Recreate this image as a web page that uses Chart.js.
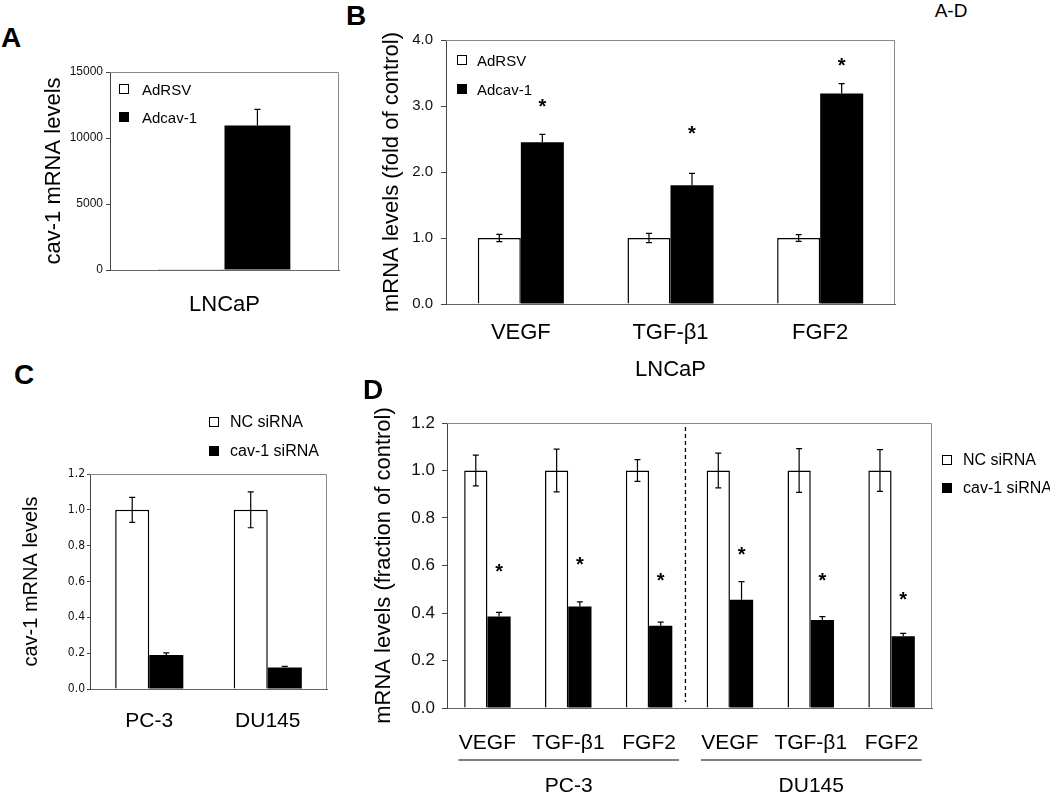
<!DOCTYPE html>
<html>
<head>
<meta charset="utf-8">
<script src="https://cdn.jsdelivr.net/npm/chart.js@4.4.1/dist/chart.umd.min.js"></script>
<style>
  body { margin: 0; background: #fff; }
  #fig { position: relative; width: 1050px; height: 793px; overflow: hidden; font-family: "Liberation Sans", Arial, sans-serif; color: #000; }
  #fig canvas { position: absolute; }
  .lbl { position: absolute; line-height: 1; white-space: nowrap; transform: translate(-50%, -50%); }
  .panel { font-weight: bold; font-size: 28px; }
  .key { position: absolute; width: 10px; height: 10px; box-sizing: border-box; border: 1px solid #000; transform: translateY(-50%); }
  .keytext { position: absolute; line-height: 1; white-space: nowrap; transform: translateY(-50%); }
</style>
</head>
<body>
<div id="fig">
  <canvas id="chartA"></canvas>
  <canvas id="chartB"></canvas>
  <canvas id="chartC"></canvas>
  <canvas id="chartD"></canvas>
  <div class="lbl panel" style="left:11px;top:38px">A</div>
  <div class="lbl panel" style="left:356px;top:16px">B</div>
  <div class="lbl panel" style="left:24px;top:375px">C</div>
  <div class="lbl panel" style="left:373px;top:390px">D</div>
  <div class="lbl" style="left:951px;top:10px;font-size:19px">A-D</div>
</div>
<script>
// ---- data ----
const seriesAB = ['AdRSV', 'Adcav-1'];
const seriesCD = ['NC siRNA', 'cav-1 siRNA'];

// A: LNCaP cav-1
const catsA = ['LNCaP'];
const adrsvA = [1];
const adrsvErrA = [0];
const adcavA = [10950];
const adcavErrA = [1220];
const ticksA = [0, 5000, 10000, 15000];

// B: LNCaP growth factors (fold of control)
const catsB = ['VEGF', 'TGF-β1', 'FGF2'];
const adrsvB = [1.0, 1.0, 1.0];
const adrsvErrB = [0.055, 0.07, 0.05];
const adcavB = [2.45, 1.80, 3.19];
const adcavErrB = [0.12, 0.18, 0.15];
const starB = [3.05, 2.63, 3.67];
const ticksB = [0, 1, 2, 3, 4];

// C: cav-1 knockdown
const catsC = ['PC-3', 'DU145'];
const ncC = [1.0, 1.0];
const ncErrC = [0.07, 0.10];
const sicavC = [0.19, 0.12];
const sicavErrC = [0.012, 0.006];
const ticksC = [0, 0.2, 0.4, 0.6, 0.8, 1.0, 1.2];

// D: growth factors after knockdown (fraction of control)
const catsD = ['VEGF', 'TGF-β1', 'FGF2', 'VEGF', 'TGF-β1', 'FGF2'];
const ncD = [1, 1, 1, 1, 1, 1];
const ncErrD = [0.065, 0.09, 0.046, 0.073, 0.092, 0.088];
const sicavD = [0.385, 0.427, 0.346, 0.456, 0.371, 0.302];
const sicavErrD = [0.018, 0.02, 0.016, 0.076, 0.014, 0.012];
const starD = [0.59, 0.62, 0.55, 0.66, 0.55, 0.47];
const groupNamesD = ['PC-3', 'DU145'];
const groupSpansD = [[0, 2], [3, 5]];
const ticksD = [0, 0.2, 0.4, 0.6, 0.8, 1.0, 1.2];

const fillColors = ['#ffffff', '#000000'];
const fig = document.getElementById('fig');

Chart.defaults.font.family = '"Liberation Sans", Arial, sans-serif';
Chart.defaults.color = '#000';

// ---- plugins ----
const boxBorder = {
  id: 'boxBorder',
  afterDraw(chart) {
    const { ctx, chartArea: a } = chart;
    ctx.save();
    ctx.strokeStyle = '#888';
    ctx.lineWidth = 1;
    ctx.beginPath();
    ctx.moveTo(a.left, a.top + 0.5);
    ctx.lineTo(a.right - 0.5, a.top + 0.5);
    ctx.lineTo(a.right - 0.5, a.bottom);
    ctx.stroke();
    ctx.restore();
  }
};

const errorBars = {
  id: 'errorBars',
  afterDatasetsDraw(chart) {
    const ctx = chart.ctx;
    const y = chart.scales.y;
    chart.data.datasets.forEach((ds, i) => {
      if (!ds.errors) return;
      const meta = chart.getDatasetMeta(i);
      meta.data.forEach((bar, j) => {
        const e = ds.errors[j];
        if (!e) return;
        const v = ds.data[j];
        const top = y.getPixelForValue(v + e);
        const bot = ds.errorBoth ? y.getPixelForValue(v - e) : bar.y;
        ctx.save();
        ctx.strokeStyle = '#000';
        ctx.lineWidth = 1.2;
        ctx.beginPath();
        ctx.moveTo(bar.x, top);
        ctx.lineTo(bar.x, bot);
        ctx.moveTo(bar.x - 3, top);
        ctx.lineTo(bar.x + 3, top);
        if (ds.errorBoth) {
          ctx.moveTo(bar.x - 3, bot);
          ctx.lineTo(bar.x + 3, bot);
        }
        ctx.stroke();
        ctx.restore();
      });
    });
  }
};

const starMarks = (levels, dsIndex) => ({
  id: 'starMarks',
  afterDatasetsDraw(chart) {
    const ctx = chart.ctx;
    const y = chart.scales.y;
    const meta = chart.getDatasetMeta(dsIndex);
    ctx.save();
    ctx.fillStyle = '#000';
    ctx.font = 'bold 20px "Liberation Sans", Arial, sans-serif';
    ctx.textAlign = 'center';
    ctx.textBaseline = 'alphabetic';
    const m = ctx.measureText('*');
    const shift = (m.actualBoundingBoxAscent - m.actualBoundingBoxDescent) / 2;
    levels.forEach((lv, j) => {
      ctx.fillText('*', meta.data[j].x, y.getPixelForValue(lv) + shift);
    });
    ctx.restore();
  }
});

const divider = (at) => ({
  id: 'divider',
  afterDatasetsDraw(chart) {
    const { ctx, chartArea: a } = chart;
    const x = chart.scales.x.getPixelForValue(at);
    ctx.save();
    ctx.strokeStyle = '#000';
    ctx.lineWidth = 1.3;
    ctx.setLineDash([4, 3]);
    ctx.beginPath();
    ctx.moveTo(x, a.top + 4);
    ctx.lineTo(x, a.bottom - 6);
    ctx.stroke();
    ctx.restore();
  }
});

const groupLabels = (names, spans) => ({
  id: 'groupLabels',
  afterDraw(chart) {
    const { ctx, chartArea: a } = chart;
    const x = chart.scales.x;
    ctx.save();
    ctx.strokeStyle = '#000';
    ctx.fillStyle = '#000';
    ctx.lineWidth = 1.2;
    ctx.font = '21px "Liberation Sans", Arial, sans-serif';
    ctx.textAlign = 'center';
    ctx.textBaseline = 'middle';
    spans.forEach((s, i) => {
      const x0 = x.getPixelForValue(s[0]) - 29;
      const x1 = x.getPixelForValue(s[1]) + 30;
      ctx.beginPath();
      ctx.moveTo(x0, a.bottom + 52);
      ctx.lineTo(x1, a.bottom + 52);
      ctx.stroke();
      ctx.fillText(names[i], (x0 + x1) / 2, a.bottom + 78);
    });
    ctx.restore();
  }
});

// ---- charts ----
const PAD_T = 22, PAD_R = 12;

function buildChart(p) {
  const canvas = document.getElementById(p.id);
  canvas.width = p.width;
  canvas.height = p.height;
  canvas.style.left = p.left + 'px';
  canvas.style.top = p.top + 'px';
  return new Chart(canvas, {
    type: 'bar',
    data: {
      labels: p.cats,
      datasets: p.series.map((s, i) => ({
        label: s.label,
        data: s.data,
        errors: s.err,
        errorBoth: i === 0,
        backgroundColor: fillColors[i],
        borderColor: '#000',
        borderWidth: i === 0 ? 1.5 : 0,
        categoryPercentage: 0.575,
        barPercentage: 1
      }))
    },
    options: {
      responsive: false,
      animation: false,
      devicePixelRatio: 1,
      layout: { padding: { top: PAD_T, right: PAD_R, left: 0, bottom: 0 } },
      plugins: { legend: { display: false }, tooltip: { enabled: false } },
      scales: {
        x: {
          ticks: { font: { size: p.xFont }, color: '#000', padding: p.xPad, autoSkip: false, maxRotation: 0 },
          grid: { display: false, drawTicks: false },
          border: { color: '#666' },
          title: { display: !!p.xTitle, text: p.xTitle || '', font: { size: 22 }, color: '#000', padding: 0 },
          afterFit: (s) => { s.height = p.xH; }
        },
        y: {
          min: 0,
          max: p.ticks[p.ticks.length - 1],
          afterBuildTicks: (s) => { s.ticks = p.ticks.map((v) => ({ value: v })); },
          ticks: { font: p.yTickFont, color: '#111', padding: p.yPad, callback: p.fmt },
          grid: { drawOnChartArea: false, tickLength: p.tickLen, color: '#444' },
          border: { color: '#444' },
          title: { display: true, text: p.yTitle, font: { size: p.yTitleSize }, color: '#000', padding: 0 },
          afterFit: (s) => { s.width = p.yW; }
        }
      }
    },
    plugins: [boxBorder, errorBars].concat(p.extra || [])
  });
}

function addLegend(names, x, ys, textX, size) {
  names.forEach((name, i) => {
    const sq = document.createElement('div');
    sq.className = 'key';
    sq.style.left = x + 'px';
    sq.style.top = ys[i] + 'px';
    sq.style.background = fillColors[i];
    const t = document.createElement('div');
    t.className = 'keytext';
    t.style.left = textX + 'px';
    t.style.top = ys[i] + 'px';
    t.style.fontSize = size + 'px';
    t.textContent = name;
    fig.append(sq, t);
  });
}

const oneDec = (v) => Number(v).toFixed(1);

buildChart({
  id: 'chartA', left: 41, top: 50, width: 310, height: 280, yW: 69, xH: 60,
  cats: catsA,
  series: [
    { label: seriesAB[0], data: adrsvA, err: adrsvErrA },
    { label: seriesAB[1], data: adcavA, err: adcavErrA }
  ],
  ticks: ticksA, fmt: (v) => String(v),
  xFont: 22, xPad: 22,
  yTickFont: { size: 12 }, tickLen: 4, yPad: 3,
  yTitle: 'cav-1 mRNA levels', yTitleSize: 22
});

buildChart({
  id: 'chartB', left: 379, top: 18, width: 528, height: 365, yW: 67, xH: 79,
  cats: catsB,
  series: [
    { label: seriesAB[0], data: adrsvB, err: adrsvErrB },
    { label: seriesAB[1], data: adcavB, err: adcavErrB }
  ],
  ticks: ticksB, fmt: oneDec,
  xFont: 22, xPad: 16, xTitle: 'LNCaP',
  yTickFont: { size: 15 }, tickLen: 5, yPad: 8,
  yTitle: 'mRNA levels (fold of control)', yTitleSize: 22,
  extra: [starMarks(starB, 1)]
});

buildChart({
  id: 'chartC', left: 19, top: 452, width: 320, height: 298, yW: 71, xH: 61,
  cats: catsC,
  series: [
    { label: seriesCD[0], data: ncC, err: ncErrC },
    { label: seriesCD[1], data: sicavC, err: sicavErrC }
  ],
  ticks: ticksC, fmt: oneDec,
  xFont: 21, xPad: 20,
  yTickFont: { size: 12, family: '"Liberation Sans Narrow", "DejaVu Sans Condensed", "Liberation Sans", sans-serif' },
  tickLen: 3, yPad: 2,
  yTitle: 'cav-1 mRNA levels', yTitleSize: 20
});

buildChart({
  id: 'chartD', left: 371, top: 401, width: 573, height: 392, yW: 76, xH: 85,
  cats: catsD,
  series: [
    { label: seriesCD[0], data: ncD, err: ncErrD },
    { label: seriesCD[1], data: sicavD, err: sicavErrD }
  ],
  ticks: ticksD, fmt: oneDec,
  xFont: 21, xPad: 23,
  yTickFont: { size: 17 }, tickLen: 5, yPad: 7,
  yTitle: 'mRNA levels (fraction of control)', yTitleSize: 22,
  extra: [starMarks(starD, 1), divider(2.45), groupLabels(groupNamesD, groupSpansD)]
});

addLegend(seriesAB, 119, [89, 117], 142, 15);
addLegend(seriesAB, 457, [60, 89], 477, 15);
addLegend(seriesCD, 209, [422, 451], 230, 16);
addLegend(seriesCD, 942, [460, 488], 963, 16);
</script>
</body>
</html>
